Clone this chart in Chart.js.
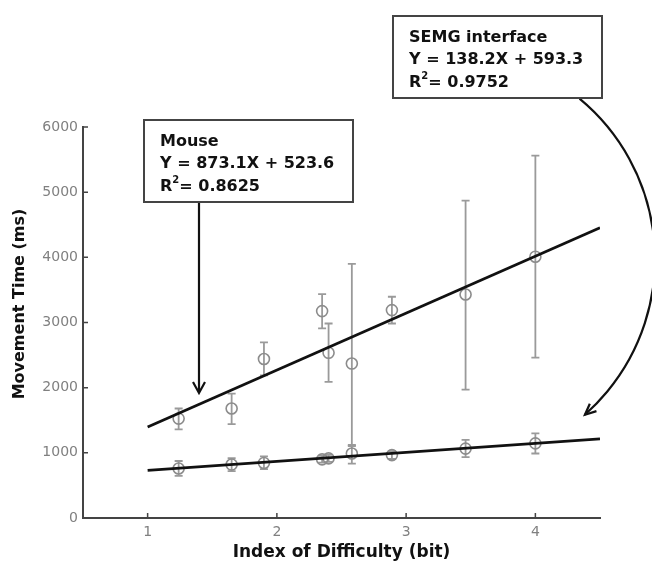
<!DOCTYPE html>
<html>
<head>
<meta charset="utf-8">
<script src="https://cdn.jsdelivr.net/npm/chart.js@4.4.1/dist/chart.umd.min.js"></script>
<style>
  html, body { margin: 0; padding: 0; background: #fff; }
  #wrap { width: 652px; height: 570px; }
</style>
</head>
<body>
<div id="wrap"><canvas id="fittsChart" width="652" height="570"></canvas></div>
<script>
// DATA
const indexOfDifficulty = [1.24, 1.65, 1.90, 2.35, 2.40, 2.58, 2.89, 3.46, 4.00];

const mouseTime = [1525, 1680, 2440, 3175, 2535, 2370, 3190, 3430, 4010];
const mouseLow  = [1360, 1440, 2190, 2910, 2090, 1120, 2985, 1970, 2460];
const mouseHigh = [1680, 1910, 2695, 3435, 2985, 3900, 3395, 4870, 5560];

const semgTime = [760, 820, 845, 900, 915, 990, 965, 1065, 1145];
const semgLow  = [645, 720, 750, 850, 860, 835, 905, 935, 990];
const semgHigh = [875, 920, 945, 955, 970, 1105, 1025, 1200, 1300];

// regression lines, ends at x = 1 and x = 4.5
const fitX = [1, 4.5];
const mouseFit = [1397, 4453];  // Y = 873.1X + 523.6
const semgFit = [732, 1215];    // Y = 138.2X + 593.3

const xTicks = [1, 2, 3, 4];
const yTicks = [0, 1000, 2000, 3000, 4000, 5000, 6000];

const mouseText = ['Mouse', 'Y = 873.1X + 523.6', '0.8625'];
const semgText = ['SEMG interface', 'Y = 138.2X + 593.3', '0.9752'];

const FONT = '"DejaVu Sans", sans-serif';
const markerColor = '#8c8c8c';

// error bars, drawn under the circles
const errorBars = {
    id: 'errorBars',
    beforeDatasetsDraw(chart) {
        const ctx = chart.ctx;
        const xs = chart.scales.x, ys = chart.scales.y;
        chart.data.datasets.forEach((ds) => {
            if (!ds.errLow) return;
            ctx.save();
            ctx.strokeStyle = '#9a9a9a';
            ctx.lineWidth = 1.8;
            ds.data.forEach((p, i) => {
                const px = xs.getPixelForValue(p.x);
                const top = ys.getPixelForValue(ds.errHigh[i]);
                const bot = ys.getPixelForValue(ds.errLow[i]);
                ctx.beginPath();
                ctx.moveTo(px, top); ctx.lineTo(px, bot);
                ctx.moveTo(px - 4, top); ctx.lineTo(px + 4, top);
                ctx.moveTo(px - 4, bot); ctx.lineTo(px + 4, bot);
                ctx.stroke();
            });
            ctx.restore();
        });
    }
};

// inward tick marks, y title, text boxes and arrows
const decorations = {
    id: 'decorations',
    afterDraw(chart) {
        const ctx = chart.ctx;
        const xs = chart.scales.x, ys = chart.scales.y;
        const area = chart.chartArea;
        ctx.save();

        // tick marks
        ctx.strokeStyle = '#444';
        ctx.lineWidth = 1.5;
        ctx.beginPath();
        xTicks.forEach(v => {
            const px = xs.getPixelForValue(v);
            ctx.moveTo(px, area.bottom); ctx.lineTo(px, area.bottom - 5);
        });
        yTicks.forEach(v => {
            const py = ys.getPixelForValue(v);
            ctx.moveTo(area.left, py); ctx.lineTo(area.left + 5, py);
        });
        ctx.stroke();

        // y axis title
        ctx.save();
        ctx.translate(20, 304);
        ctx.rotate(-Math.PI / 2);
        ctx.fillStyle = '#111';
        ctx.font = 'bold 16px ' + FONT;
        ctx.textAlign = 'center';
        ctx.textBaseline = 'middle';
        ctx.fillText('Movement Time (ms)', 0, 0);
        ctx.restore();

        // arrows
        ctx.strokeStyle = '#111';
        ctx.lineWidth = 2.2;
        ctx.beginPath();
        ctx.moveTo(199, 202); ctx.lineTo(199, 392);
        ctx.moveTo(193, 382); ctx.lineTo(199, 393); ctx.lineTo(205, 382);
        ctx.stroke();

        const cx = 447, cy = 259, r = 208, a0 = -0.88, a1 = 0.846;
        ctx.beginPath();
        ctx.arc(cx, cy, r, a0, a1);
        ctx.stroke();
        const tipX = cx + r * Math.cos(a1), tipY = cy + r * Math.sin(a1);
        const dx = -Math.sin(a1), dy = Math.cos(a1);
        const bx = tipX - 11 * dx, by = tipY - 11 * dy;
        ctx.beginPath();
        ctx.moveTo(bx + 5 * dy, by - 5 * dx);
        ctx.lineTo(tipX, tipY);
        ctx.lineTo(bx - 5 * dy, by + 5 * dx);
        ctx.stroke();

        // text boxes
        const drawBox = (x, y, w, h, lines) => {
            ctx.fillStyle = '#fff';
            ctx.fillRect(x, y, w, h);
            ctx.strokeStyle = '#444';
            ctx.lineWidth = 2;
            ctx.strokeRect(x, y, w, h);
            ctx.fillStyle = '#111';
            ctx.font = 'bold 16px ' + FONT;
            ctx.textAlign = 'left';
            ctx.textBaseline = 'alphabetic';
            const tx = x + 16;
            ctx.fillText(lines[0], tx, y + 26);
            ctx.fillText(lines[1], tx, y + 48);
            ctx.fillText('R', tx, y + 71);
            const rw = ctx.measureText('R').width;
            ctx.font = 'bold 10px ' + FONT;
            ctx.fillText('2', tx + rw, y + 63);
            const sw = ctx.measureText('2').width;
            ctx.font = 'bold 16px ' + FONT;
            ctx.fillText('= ' + lines[2], tx + rw + sw, y + 71);
        };
        drawBox(144, 120, 209, 82, mouseText);
        drawBox(393, 16, 209, 82, semgText);

        ctx.restore();
    }
};

const circleStyle = {
    showLine: false,
    pointStyle: 'circle',
    pointRadius: 5.5,
    pointBorderWidth: 1.6,
    borderColor: markerColor,
    backgroundColor: 'rgba(0,0,0,0)',
    pointBackgroundColor: 'rgba(0,0,0,0)',
    order: 1
};

const ctx = document.getElementById('fittsChart');
const fittsChart = new Chart(ctx, {
    type: 'scatter',
    data: {
        datasets: [{
            type: 'line',
            label: 'Mouse fit',
            data: fitX.map((x, i) => ({ x: x, y: mouseFit[i] })),
            borderColor: '#111',
            borderWidth: 2.8,
            pointRadius: 0,
            order: 0
        }, {
            type: 'line',
            label: 'SEMG fit',
            data: fitX.map((x, i) => ({ x: x, y: semgFit[i] })),
            borderColor: '#111',
            borderWidth: 2.8,
            pointRadius: 0,
            order: 0
        }, {
            label: 'Mouse',
            data: indexOfDifficulty.map((x, i) => ({ x: x, y: mouseTime[i] })),
            errLow: mouseLow,
            errHigh: mouseHigh,
            ...circleStyle
        }, {
            label: 'SEMG interface',
            data: indexOfDifficulty.map((x, i) => ({ x: x, y: semgTime[i] })),
            errLow: semgLow,
            errHigh: semgHigh,
            ...circleStyle
        }]
    },
    options: {
        responsive: false,
        animation: false,
        layout: { padding: { top: 127, right: 52, left: 0, bottom: 0 } },
        plugins: {
            legend: { display: false },
            tooltip: { enabled: false }
        },
        scales: {
            x: {
                type: 'linear',
                min: 0.5,
                max: 4.5,
                afterBuildTicks: (scale) => { scale.ticks = xTicks.map(v => ({ value: v })); },
                afterFit: (scale) => { scale.height = 52; },
                grid: { display: false, drawTicks: false },
                border: { display: true, color: '#444', width: 2 },
                ticks: {
                    color: '#808080',
                    font: { family: FONT, size: 14 },
                    padding: 6,
                    callback: (v) => String(v)
                },
                title: {
                    display: true,
                    text: 'Index of Difficulty (bit)',
                    color: '#111',
                    font: { family: FONT, size: 17, weight: 'bold' },
                    padding: { top: 0, bottom: 7 }
                }
            },
            y: {
                min: 0,
                max: 6000,
                afterBuildTicks: (scale) => { scale.ticks = yTicks.map(v => ({ value: v })); },
                afterFit: (scale) => { scale.width = 83; },
                grid: { display: false, drawTicks: false },
                border: { display: true, color: '#444', width: 2 },
                ticks: {
                    color: '#808080',
                    font: { family: FONT, size: 14 },
                    padding: 5,
                    callback: (v) => String(v)
                }
            }
        }
    },
    plugins: [errorBars, decorations]
});
</script>
</body>
</html>
